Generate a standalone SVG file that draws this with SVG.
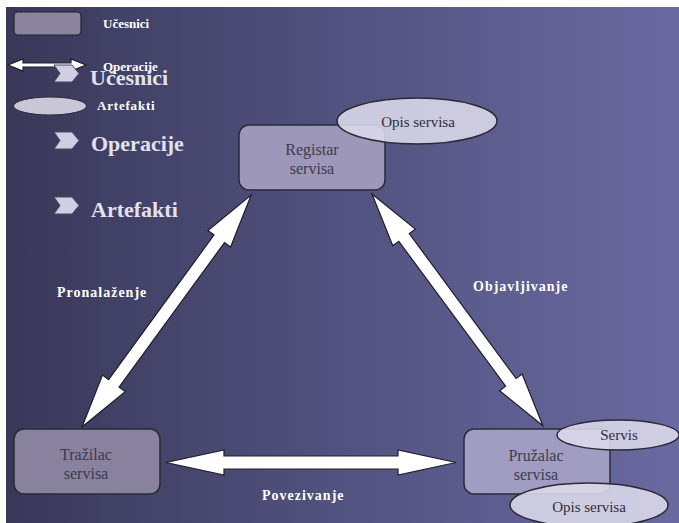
<svg xmlns="http://www.w3.org/2000/svg" width="679" height="523" viewBox="0 0 679 523">
  <defs>
    <linearGradient id="bg" x1="0" y1="0" x2="1" y2="0">
      <stop offset="0" stop-color="#393859"/>
      <stop offset="0.5" stop-color="#525280"/>
      <stop offset="1" stop-color="#6a6aa1"/>
    </linearGradient>
    <polygon id="chev" points="0,0 18,0 25,8.5 18,17 0,17 6,8.5"/>
  </defs>
  <style>
    .node { stroke: #2a2a38; stroke-width: 1.5; }
    .art { fill: #dddbea; fill-opacity: 0.88; stroke: #2a2a38; stroke-width: 1.5; }
    .ntext { font-family: "Liberation Serif", "Times New Roman", serif; font-size: 16px; fill: #3c3c4c; text-anchor: middle; }
    .atext { font-family: "Liberation Serif", "Times New Roman", serif; font-size: 15px; fill: #2e2e3c; text-anchor: middle; }
    .lbl { font-family: "Liberation Serif", "Times New Roman", serif; font-size: 14px; font-weight: bold; fill: #ffffff; letter-spacing: 1px; }
    .leg { font-family: "Liberation Serif", "Times New Roman", serif; font-size: 13px; font-weight: bold; fill: #ffffff; }
    .big { font-family: "Liberation Serif", "Times New Roman", serif; font-size: 22px; font-weight: bold; fill: #e2e2ee; }
    .arrow { fill: #ffffff; stroke: #1e1e28; stroke-width: 1.2; stroke-linejoin: miter; }
    .bullet { fill: #d0cee2; stroke: #4a4a5e; stroke-width: 1; }
  </style>

  <!-- background panel -->
  <rect x="0" y="0" width="679" height="523" fill="#ffffff"/>
  <rect x="6" y="7" width="673" height="516" fill="url(#bg)"/>

  <!-- legend -->
  <g id="legend">
    <rect x="14" y="12" width="67" height="23" rx="4" fill="#8a849f" stroke="#222230" stroke-width="1.2"/>
    <text class="leg" x="103" y="28">Učesnici</text>
    <polygon class="arrow" stroke-width="0.8" points="8,65 23,59 23,63 71,63 71,59 86,65 71,71 71,67 23,67 23,71"/>
    <text class="leg" x="103" y="71">Operacije</text>
    <ellipse cx="50" cy="106" rx="36.5" ry="9" fill="#c9c6d8" stroke="#2a2a38" stroke-width="1"/>
    <text class="leg" x="97" y="110" letter-spacing="0.8">Artefakti</text>
  </g>

  <!-- bullet list -->
  <g id="bullets">
    <use href="#chev" class="bullet" x="54" y="65"/>
    <text class="big" x="90" y="85">Učesnici</text>
    <use href="#chev" class="bullet" x="54" y="132"/>
    <text class="big" x="91" y="151">Operacije</text>
    <use href="#chev" class="bullet" x="54" y="197"/>
    <text class="big" x="91" y="217">Artefakti</text>
  </g>

  <!-- connectors -->
  <g id="connectors">
    <polygon class="arrow" transform="translate(82,427) rotate(-53.9)"
      points="0,0 54,-14 54,-6.5 233,-6.5 233,-14 287,0 233,14 233,6.5 54,6.5 54,14"/>
    <polygon class="arrow" transform="translate(372,194) rotate(53.6)"
      points="0,0 54,-14 54,-6.5 234,-6.5 234,-14 288,0 234,14 234,6.5 54,6.5 54,14"/>
    <polygon class="arrow" transform="translate(166,462.5)"
      points="0,0 58,-12.5 58,-6.5 232,-6.5 232,-12.5 290,0 232,12.5 232,6.5 58,6.5 58,12.5"/>
    <text class="lbl" x="57" y="297">Pronalaženje</text>
    <text class="lbl" x="473" y="291">Objavljivanje</text>
    <text class="lbl" x="262" y="500">Povezivanje</text>
  </g>

  <!-- service registry -->
  <g id="registar">
    <rect class="node" x="239" y="125" width="146" height="65" rx="10" fill="#9d97b9"/>
    <text class="ntext" x="312" y="155">Registar</text>
    <text class="ntext" x="312" y="174">servisa</text>
  </g>
  <g id="opis-registar">
    <ellipse class="art" cx="417" cy="121" rx="80" ry="23"/>
    <text class="atext" x="418" y="127">Opis servisa</text>
  </g>

  <!-- service requester -->
  <g id="trazilac">
    <rect class="node" x="14" y="429" width="146" height="65" rx="10" fill="#88829e"/>
    <text class="ntext" x="86" y="460" fill="#4a4a5a">Tražilac</text>
    <text class="ntext" x="86" y="479" fill="#4a4a5a">servisa</text>
  </g>

  <!-- service provider -->
  <g id="pruzalac">
    <rect class="node" x="464" y="429" width="146" height="65" rx="10" fill="#a19dc2"/>
    <text class="ntext" x="536" y="461">Pružalac</text>
    <text class="ntext" x="536" y="480">servisa</text>
  </g>
  <g id="servis">
    <ellipse class="art" cx="618" cy="435" rx="61" ry="15"/>
    <text class="atext" x="619" y="440">Servis</text>
  </g>
  <g id="opis-pruzalac">
    <ellipse class="art" cx="589" cy="505" rx="79" ry="22"/>
    <text class="atext" x="589" y="512">Opis servisa</text>
  </g>
</svg>
